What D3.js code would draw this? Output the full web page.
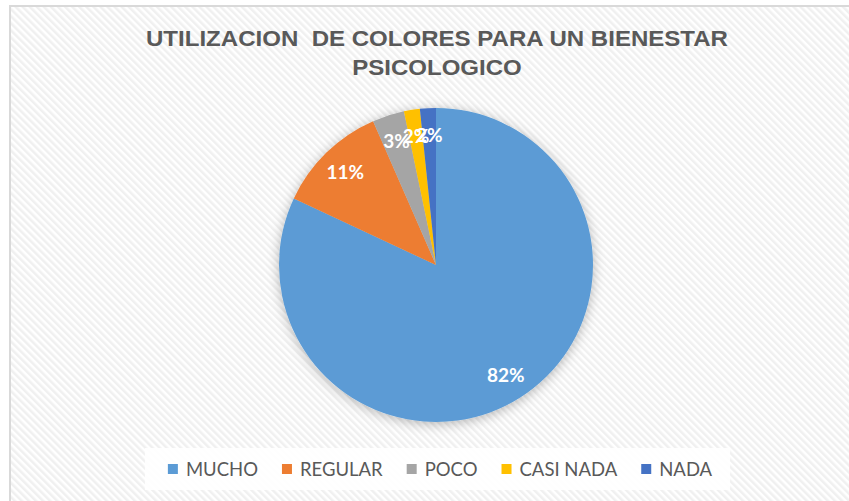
<!DOCTYPE html>
<html>
<head>
<meta charset="utf-8">
<script src="https://cdn.jsdelivr.net/npm/d3@7"></script>
<style>
body { margin: 0; background: #fff; }
svg { display: block; }
</style>
</head>
<body>
<div id="chart"></div>
<script>
var categories = ["MUCHO", "REGULAR", "POCO", "CASI NADA", "NADA"];
var values = [50, 7, 2, 1, 1];
var colors = ["#5b9bd5", "#ed7d31", "#a5a5a5", "#ffc000", "#4472c4"];
var titleLines = ["UTILIZACION  DE COLORES PARA UN BIENESTAR", "PSICOLOGICO"];

var width = 849, height = 501;
var cx = 436, cy = 265, radius = 157;

var svg = d3.select("#chart").append("svg")
    .attr("width", width)
    .attr("height", height);

var defs = svg.append("defs");

// diagonal hatch of the chart area
var pattern = defs.append("pattern")
    .attr("id", "hatch")
    .attr("width", 5)
    .attr("height", 5)
    .attr("patternUnits", "userSpaceOnUse")
    .attr("patternTransform", "rotate(-45)");
pattern.append("rect").attr("width", 5).attr("height", 5).attr("fill", "#ffffff");
pattern.append("rect").attr("width", 2.5).attr("height", 5).attr("fill", "#f0f0f0");

var shadow = defs.append("filter")
    .attr("id", "shadow")
    .attr("x", "-20%").attr("y", "-20%")
    .attr("width", "140%").attr("height", "140%");
shadow.append("feGaussianBlur").attr("in", "SourceAlpha").attr("stdDeviation", 6).attr("result", "blur");
shadow.append("feOffset").attr("in", "blur").attr("dx", 0).attr("dy", 2).attr("result", "off");
shadow.append("feFlood").attr("flood-color", "#000").attr("flood-opacity", 0.28).attr("result", "col");
shadow.append("feComposite").attr("in", "col").attr("in2", "off").attr("operator", "in").attr("result", "sh");
var merge = shadow.append("feMerge");
merge.append("feMergeNode").attr("in", "sh");
merge.append("feMergeNode").attr("in", "SourceGraphic");

// chart area with border on top and left
svg.append("rect")
    .attr("x", 10)
    .attr("y", 6)
    .attr("width", width + 10)
    .attr("height", height + 10)
    .attr("fill", "url(#hatch)")
    .attr("stroke", "#d9d9d9")
    .attr("stroke-width", 2);

// title, stretched a little like the original
var titles = svg.append("g").selectAll("text")
    .data(titleLines)
    .enter().append("text")
    .attr("x", 437)
    .attr("y", function(d, i) { return 46 + i * 29; })
    .attr("text-anchor", "middle")
    .style("white-space", "pre")
    .attr("font-family", "'Liberation Sans', Arial, sans-serif")
    .attr("font-weight", "bold")
    .attr("font-size", 22)
    .attr("fill", "#595959")
    .text(function(d) { return d; });
var stretch = 582 / titles.nodes()[0].getComputedTextLength();
titles.each(function() {
    var w = this.getComputedTextLength();
    d3.select(this)
        .attr("textLength", w * stretch)
        .attr("lengthAdjust", "spacingAndGlyphs");
});

var data = categories.map(function(c, i) {
    return { name: c, value: values[i], color: colors[i] };
});
var total = d3.sum(values);

var pie = d3.pie()
    .sort(null)
    .value(function(d) { return d.value; });
var arc = d3.arc().innerRadius(0).outerRadius(radius);
var labelArc = d3.arc().innerRadius(130).outerRadius(130);

var pieG = svg.append("g")
    .attr("transform", "translate(" + cx + "," + cy + ")");

pieG.append("g")
    .attr("filter", "url(#shadow)")
    .selectAll("path")
    .data(pie(data))
    .enter().append("path")
    .attr("d", arc)
    .attr("fill", function(d) { return d.data.color; });

pieG.append("g").selectAll("text")
    .data(pie(data))
    .enter().append("text")
    .attr("transform", function(d) { return "translate(" + labelArc.centroid(d) + ")"; })
    .attr("text-anchor", "middle")
    .attr("dy", "0.36em")
    .attr("font-family", "Lato, sans-serif")
    .attr("font-weight", "bold")
    .attr("font-size", 19)
    .attr("fill", "#ffffff")
    .text(function(d) { return Math.round(d.data.value / total * 100) + "%"; });

// legend
var legendBox = svg.append("rect")
    .attr("fill", "#ffffff")
    .attr("fill-opacity", 0.9);
var legend = svg.append("g");
var items = legend.selectAll("g")
    .data(data)
    .enter().append("g");
items.append("rect")
    .attr("width", 10)
    .attr("height", 10)
    .attr("y", -5)
    .attr("fill", function(d) { return d.color; });
items.append("text")
    .attr("x", 18)
    .attr("dy", "0.36em")
    .attr("font-family", "Lato, sans-serif")
    .attr("font-size", 18.5)
    .attr("fill", "#595959")
    .text(function(d) { return d.name; });

var widths = [];
items.each(function() {
    widths.push(18 + d3.select(this).select("text").node().getComputedTextLength());
});
var gap = 24;
var totalW = d3.sum(widths) + gap * (widths.length - 1);
var lx = 440 - totalW / 2;
var ly = 469;
items.attr("transform", function(d, i) {
    var x = lx + d3.sum(widths.slice(0, i)) + gap * i;
    return "translate(" + x + "," + ly + ")";
});
legendBox
    .attr("x", lx - 23)
    .attr("y", 448)
    .attr("width", totalW + 41)
    .attr("height", 42);
</script>
</body>
</html>
